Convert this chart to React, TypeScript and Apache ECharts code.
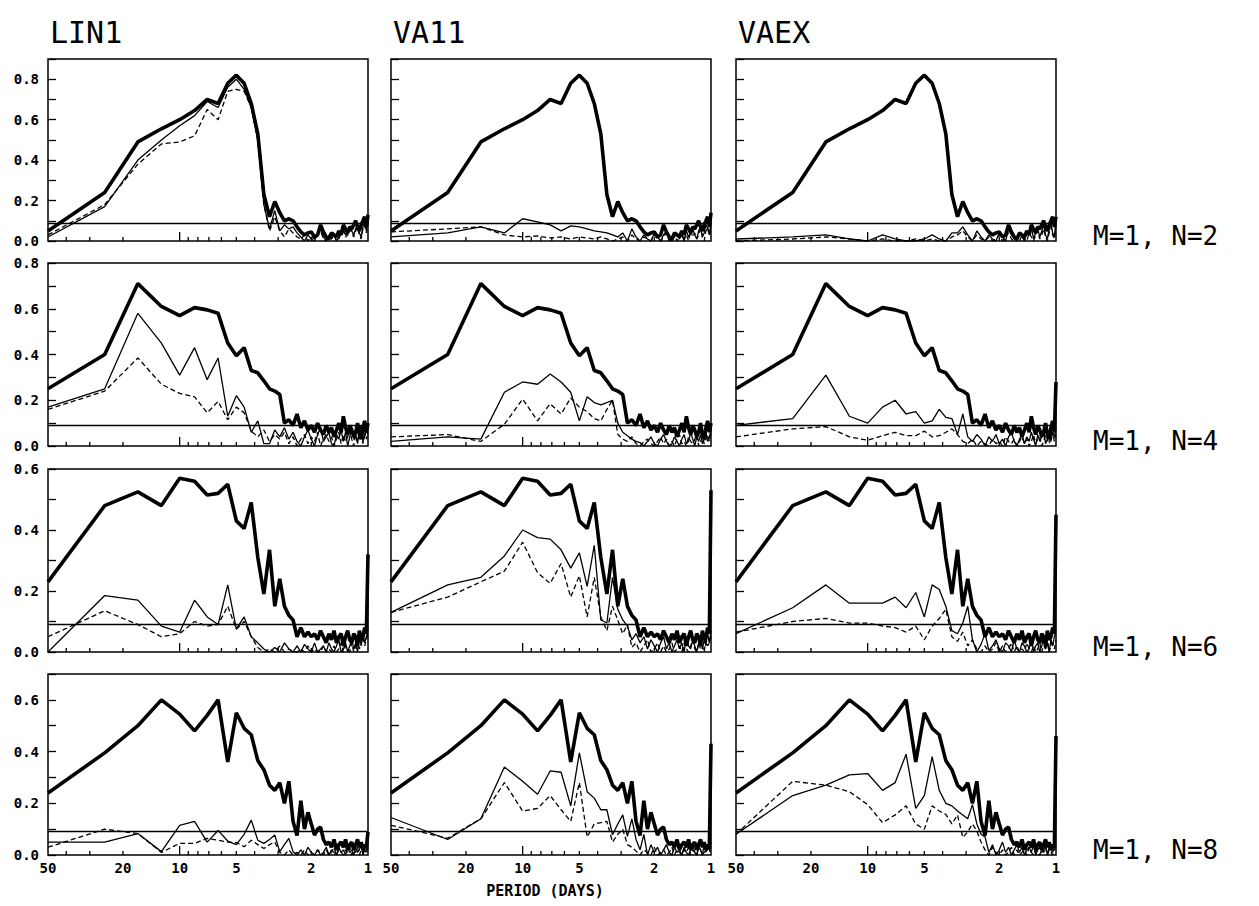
import React, { useEffect, useRef } from "react";
import * as echarts from "echarts";

// Harmonic index k of each spectral estimate; period (days) = 50 / k
const harmonics = [
  1, 2, 3, 4, 5, 6, 7, 8, 9, 10, 11, 12, 13, 14, 15, 16, 17, 18, 19, 20,
  21, 22, 23, 24, 25, 26, 27, 28, 29, 30, 31, 32, 33, 34, 35, 36, 37, 38, 39, 40,
  41, 42, 43, 44, 45, 46, 47, 48, 49, 50,
];
const recordLength = 50;

const models = ["LIN1", "VA11", "VAEX"];
const rowLabels = ["M=1, N=2", "M=1, N=4", "M=1, N=6", "M=1, N=8"];
const yMaxByRow = [0.9, 0.8, 0.6, 0.7];
const significance = 0.085;
const xTickPeriods = [40, 30, 20, 10, 9, 8, 7, 6, 5, 4, 3, 2];
const xLabelPeriods = [50, 20, 10, 5, 2, 1];
const xLabel = "PERIOD (DAYS)";

// ---- thick curve (k = 1..49), shared by the row; last point per panel ----
const thickN2 = [
  0.05, 0.24, 0.49, 0.555, 0.6, 0.645, 0.7, 0.68, 0.78, 0.82,
  0.78, 0.68, 0.53, 0.23, 0.12, 0.195, 0.14, 0.1, 0.11, 0.1,
  0.07, 0.045, 0.03, 0.04, 0.045, 0.02, 0.03, 0.08, 0.045, 0.02,
  0.01, 0.04, 0.03, 0.02, 0.05, 0.03, 0.08, 0.06, 0.04, 0.07,
  0.06, 0.08, 0.1, 0.07, 0.05, 0.08, 0.1, 0.12, 0.07,
];
const endN2 = [0.13, 0.14, 0.12];
const thickN4 = [
  0.25, 0.4, 0.71, 0.61, 0.57, 0.605, 0.595, 0.58, 0.45, 0.395,
  0.43, 0.33, 0.32, 0.285, 0.25, 0.24, 0.225, 0.1, 0.115, 0.09,
  0.14, 0.08, 0.11, 0.07, 0.09, 0.06, 0.1, 0.07, 0.05, 0.09,
  0.06, 0.08, 0.04, 0.07, 0.1, 0.06, 0.13, 0.08, 0.05, 0.09,
  0.07, 0.04, 0.06, 0.1, 0.05, 0.03, 0.08, 0.11, 0.06,
];
const endN4 = [0.1, 0.1, 0.28];
const thickN6 = [
  0.23, 0.48, 0.525, 0.48, 0.57, 0.56, 0.515, 0.52, 0.55, 0.43,
  0.405, 0.49, 0.31, 0.19, 0.335, 0.15, 0.24, 0.15, 0.12, 0.105,
  0.05, 0.08, 0.05, 0.065, 0.05, 0.06, 0.04, 0.07, 0.05, 0.03,
  0.06, 0.04, 0.07, 0.03, 0.05, 0.06, 0.02, 0.05, 0.07, 0.04,
  0.03, 0.06, 0.05, 0.02, 0.07, 0.04, 0.05, 0.08, 0.06,
];
const endN6 = [0.32, 0.53, 0.45];
const thickN8 = [
  0.24, 0.395, 0.5, 0.6, 0.545, 0.48, 0.54, 0.6, 0.36, 0.55,
  0.49, 0.465, 0.365, 0.33, 0.27, 0.25, 0.28, 0.2, 0.285, 0.13,
  0.075, 0.21, 0.1, 0.165, 0.12, 0.077, 0.1, 0.108, 0.06, 0.04,
  0.05, 0.03, 0.06, 0.02, 0.04, 0.05, 0.03, 0.06, 0.02, 0.04,
  0.05, 0.02, 0.04, 0.06, 0.03, 0.05, 0.02, 0.04, 0.03,
];
const endN8 = [0.09, 0.43, 0.46];

// ---- N=2 ----
const lin1N2Solid = [
  0.02, 0.17, 0.4, 0.5, 0.57, 0.62, 0.69, 0.66, 0.76, 0.8,
  0.75, 0.66, 0.5, 0.18, 0.06, 0.15, 0.05, 0.08, 0.06, 0.07,
  0.04, 0.02, 0.0, 0.03, 0.01, 0.0, 0.04, 0.06, 0.02, 0.0,
  0.03, 0.01, 0.04, 0.0, 0.02, 0.05, 0.06, 0.03, 0.04, 0.07,
  0.05, 0.03, 0.06, 0.08, 0.04, 0.02, 0.07, 0.09, 0.05, 0.1,
];
const lin1N2Dashed = [
  0.03, 0.18, 0.38, 0.48, 0.49, 0.52, 0.65, 0.6, 0.74, 0.75,
  0.74, 0.66, 0.5, 0.18, 0.05, 0.12, 0.05, 0.02, 0.06, 0.04,
  0.02, 0.01, 0.03, 0.0, 0.02, 0.01, 0.03, 0.05, 0.01, 0.0,
  0.02, 0.01, 0.03, 0.0, 0.01, 0.04, 0.05, 0.02, 0.03, 0.06,
  0.04, 0.02, 0.05, 0.07, 0.03, 0.01, 0.06, 0.08, 0.04, 0.09,
];
const va11N2Solid = [
  0.02, 0.04, 0.07, 0.04, 0.11, 0.095, 0.08, 0.05, 0.075, 0.07,
  0.06, 0.05, 0.045, 0.04, 0.03, 0.02, 0.04, 0.0, 0.06, 0.02,
  0.0, 0.03, 0.01, 0.0, 0.04, 0.02, 0.0, 0.03, 0.05, 0.01,
  0.0, 0.02, 0.04, 0.01, 0.03, 0.0, 0.05, 0.02, 0.04, 0.06,
  0.03, 0.01, 0.05, 0.07, 0.02, 0.04, 0.08, 0.06, 0.03, 0.09,
];
const va11N2Dashed = [
  0.045, 0.06, 0.07, 0.03, 0.02, 0.025, 0.015, 0.02, 0.01, 0.02,
  0.015, 0.01, 0.02, 0.01, 0.0, 0.01, 0.02, 0.0, 0.03, 0.01,
  0.0, 0.02, 0.01, 0.0, 0.03, 0.01, 0.0, 0.02, 0.04, 0.0,
  0.01, 0.03, 0.0, 0.02, 0.04, 0.01, 0.03, 0.0, 0.05, 0.02,
  0.04, 0.01, 0.03, 0.06, 0.02, 0.0, 0.05, 0.07, 0.03, 0.08,
];
const vaexN2Solid = [
  0.01, 0.02, 0.03, 0.01, 0.0, 0.03, 0.01, 0.0, 0.0, 0.01,
  0.03, 0.01, 0.0, 0.04, 0.04, 0.07, 0.03, 0.0, 0.05, 0.02,
  0.0, 0.03, 0.01, 0.0, 0.04, 0.02, 0.0, 0.06, 0.03, 0.01,
  0.0, 0.04, 0.02, 0.0, 0.05, 0.03, 0.07, 0.01, 0.04, 0.06,
  0.02, 0.05, 0.08, 0.03, 0.01, 0.06, 0.09, 0.04, 0.02, 0.1,
];
const vaexN2Dashed = [
  0.0, 0.01, 0.02, 0.01, 0.0, 0.01, 0.0, 0.0, 0.01, 0.0,
  0.01, 0.0, 0.0, 0.02, 0.03, 0.05, 0.02, 0.0, 0.03, 0.01,
  0.0, 0.02, 0.0, 0.01, 0.03, 0.0, 0.02, 0.04, 0.01, 0.0,
  0.02, 0.0, 0.03, 0.01, 0.0, 0.04, 0.02, 0.0, 0.03, 0.05,
  0.01, 0.03, 0.06, 0.02, 0.0, 0.04, 0.07, 0.03, 0.01, 0.08,
];

// ---- N=4 ----
const lin1N4Solid = [
  0.17, 0.25, 0.58, 0.45, 0.31, 0.43, 0.29, 0.385, 0.13, 0.22,
  0.17, 0.06, 0.11, 0.01, 0.01, 0.07, 0.04, 0.08, 0.03, 0.06,
  0.02, 0.0, 0.04, 0.07, 0.03, 0.0, 0.05, 0.08, 0.02, 0.04,
  0.06, 0.01, 0.0, 0.05, 0.03, 0.07, 0.02, 0.06, 0.0, 0.04,
  0.08, 0.03, 0.05, 0.01, 0.06, 0.09, 0.02, 0.04, 0.07, 0.05,
];
const lin1N4Dashed = [
  0.16, 0.24, 0.385, 0.27, 0.23, 0.215, 0.145, 0.195, 0.115, 0.17,
  0.145, 0.065, 0.04, 0.07, 0.02, 0.05, 0.03, 0.06, 0.01, 0.04,
  0.0, 0.03, 0.05, 0.01, 0.04, 0.02, 0.06, 0.0, 0.03, 0.05,
  0.02, 0.04, 0.0, 0.03, 0.06, 0.01, 0.05, 0.02, 0.04, 0.07,
  0.03, 0.0, 0.05, 0.02, 0.06, 0.04, 0.01, 0.07, 0.03, 0.06,
];
const va11N4Solid = [
  0.02, 0.04, 0.03, 0.235, 0.28, 0.27, 0.315, 0.28, 0.235, 0.11,
  0.215, 0.19, 0.18, 0.19, 0.2, 0.1, 0.06, 0.045, 0.03, 0.02,
  0.015, 0.0, 0.02, 0.04, 0.01, 0.0, 0.03, 0.05, 0.02, 0.0,
  0.01, 0.04, 0.02, 0.0, 0.03, 0.05, 0.01, 0.02, 0.06, 0.03,
  0.0, 0.04, 0.02, 0.05, 0.01, 0.03, 0.06, 0.02, 0.04, 0.07,
];
const va11N4Dashed = [
  0.04, 0.05, 0.02, 0.095, 0.205, 0.11, 0.185, 0.14, 0.21, 0.17,
  0.15, 0.12, 0.11, 0.16, 0.2, 0.05, 0.03, 0.02, 0.04, 0.01,
  0.0, 0.02, 0.03, 0.01, 0.0, 0.02, 0.04, 0.01, 0.03, 0.0,
  0.02, 0.0, 0.03, 0.05, 0.01, 0.02, 0.0, 0.04, 0.02, 0.01,
  0.03, 0.05, 0.0, 0.02, 0.04, 0.01, 0.03, 0.05, 0.02, 0.06,
];
const vaexN4Solid = [
  0.09, 0.12, 0.31, 0.13, 0.1, 0.17, 0.2, 0.14, 0.15, 0.1,
  0.11, 0.16, 0.125, 0.12, 0.05, 0.14, 0.04, 0.02, 0.05, 0.03,
  0.0, 0.04, 0.02, 0.05, 0.01, 0.03, 0.0, 0.04, 0.06, 0.02,
  0.0, 0.03, 0.05, 0.01, 0.04, 0.02, 0.06, 0.03, 0.0, 0.05,
  0.02, 0.04, 0.07, 0.01, 0.03, 0.05, 0.02, 0.06, 0.04, 0.08,
];
const vaexN4Dashed = [
  0.04, 0.075, 0.085, 0.04, 0.025, 0.045, 0.06, 0.045, 0.045, 0.065,
  0.04, 0.045, 0.06, 0.075, 0.05, 0.02, 0.01, 0.03, 0.0, 0.02,
  0.01, 0.0, 0.03, 0.01, 0.02, 0.0, 0.04, 0.02, 0.01, 0.03,
  0.0, 0.02, 0.04, 0.01, 0.03, 0.0, 0.02, 0.05, 0.01, 0.03,
  0.04, 0.0, 0.02, 0.05, 0.03, 0.01, 0.04, 0.06, 0.02, 0.05,
];

// ---- N=6 ----
const lin1N6Solid = [
  0.0, 0.185, 0.17, 0.085, 0.065, 0.17, 0.115, 0.09, 0.22, 0.075,
  0.115, 0.05, 0.03, 0.01, 0.0, 0.015, 0.0, 0.03, 0.01, 0.0,
  0.02, 0.0, 0.025, 0.01, 0.0, 0.03, 0.0, 0.01, 0.02, 0.0,
  0.03, 0.01, 0.0, 0.02, 0.04, 0.0, 0.01, 0.03, 0.0, 0.02,
  0.04, 0.01, 0.03, 0.0, 0.05, 0.02, 0.06, 0.03, 0.05, 0.08,
];
const lin1N6Dashed = [
  0.05, 0.135, 0.09, 0.05, 0.06, 0.1, 0.085, 0.09, 0.15, 0.075,
  0.1, 0.05, 0.015, 0.0, 0.01, 0.0, 0.02, 0.0, 0.01, 0.0,
  0.0, 0.01, 0.0, 0.02, 0.0, 0.01, 0.0, 0.0, 0.02, 0.0,
  0.01, 0.0, 0.02, 0.0, 0.01, 0.03, 0.0, 0.02, 0.01, 0.0,
  0.03, 0.0, 0.02, 0.04, 0.01, 0.03, 0.05, 0.02, 0.04, 0.06,
];
const va11N6Solid = [
  0.13, 0.22, 0.245, 0.315, 0.4, 0.375, 0.37, 0.335, 0.275, 0.325,
  0.215, 0.35, 0.105, 0.095, 0.245, 0.14, 0.105, 0.085, 0.04, 0.06,
  0.03, 0.05, 0.01, 0.04, 0.02, 0.0, 0.03, 0.05, 0.01, 0.03,
  0.0, 0.02, 0.04, 0.01, 0.03, 0.0, 0.05, 0.02, 0.01, 0.04,
  0.02, 0.0, 0.03, 0.05, 0.01, 0.04, 0.02, 0.06, 0.03, 0.07,
];
const va11N6Dashed = [
  0.13, 0.18, 0.23, 0.265, 0.36, 0.26, 0.225, 0.29, 0.18, 0.25,
  0.115, 0.245, 0.115, 0.07, 0.15, 0.105, 0.06, 0.09, 0.015, 0.03,
  0.0, 0.02, 0.04, 0.0, 0.01, 0.03, 0.0, 0.02, 0.0, 0.01,
  0.03, 0.0, 0.01, 0.02, 0.0, 0.03, 0.01, 0.0, 0.02, 0.04,
  0.01, 0.0, 0.03, 0.01, 0.02, 0.0, 0.04, 0.02, 0.03, 0.05,
];
const vaexN6Solid = [
  0.06, 0.145, 0.22, 0.16, 0.16, 0.16, 0.18, 0.145, 0.195, 0.115,
  0.22, 0.205, 0.15, 0.07, 0.06, 0.095, 0.15, 0.04, 0.0, 0.025,
  0.06, 0.005, 0.02, 0.04, 0.01, 0.0, 0.03, 0.02, 0.0, 0.04,
  0.01, 0.0, 0.03, 0.02, 0.0, 0.01, 0.04, 0.0, 0.02, 0.03,
  0.0, 0.02, 0.05, 0.01, 0.03, 0.0, 0.04, 0.02, 0.05, 0.07,
];
const vaexN6Dashed = [
  0.065, 0.1, 0.11, 0.095, 0.095, 0.085, 0.08, 0.065, 0.085, 0.04,
  0.085, 0.11, 0.14, 0.05, 0.035, 0.065, 0.02, 0.04, 0.01, 0.0,
  0.02, 0.0, 0.01, 0.03, 0.0, 0.02, 0.0, 0.01, 0.03, 0.0,
  0.02, 0.0, 0.01, 0.0, 0.03, 0.01, 0.0, 0.02, 0.0, 0.01,
  0.03, 0.0, 0.02, 0.01, 0.04, 0.0, 0.02, 0.03, 0.01, 0.04,
];

// ---- N=8 ----
const lin1N8Solid = [
  0.05, 0.05, 0.083, 0.013, 0.115, 0.13, 0.05, 0.095, 0.054, 0.04,
  0.08, 0.135, 0.057, 0.045, 0.06, 0.077, 0.013, 0.04, 0.064, 0.013,
  0.0, 0.02, 0.0, 0.03, 0.01, 0.0, 0.02, 0.0, 0.01, 0.03,
  0.0, 0.02, 0.01, 0.0, 0.03, 0.01, 0.02, 0.0, 0.03, 0.01,
  0.02, 0.0, 0.03, 0.01, 0.02, 0.04, 0.0, 0.02, 0.01, 0.03,
];
const lin1N8Dashed = [
  0.03, 0.1, 0.083, 0.01, 0.045, 0.045, 0.064, 0.057, 0.05, 0.048,
  0.032, 0.057, 0.04, 0.025, 0.04, 0.05, 0.01, 0.0, 0.02, 0.0,
  0.01, 0.0, 0.02, 0.0, 0.01, 0.0, 0.02, 0.01, 0.0, 0.02,
  0.0, 0.01, 0.03, 0.0, 0.02, 0.01, 0.0, 0.02, 0.01, 0.03,
  0.0, 0.02, 0.01, 0.03, 0.0, 0.02, 0.01, 0.03, 0.02, 0.04,
];
const va11N8Solid = [
  0.145, 0.06, 0.14, 0.34, 0.285, 0.235, 0.325, 0.32, 0.19, 0.395,
  0.245, 0.22, 0.175, 0.175, 0.078, 0.12, 0.155, 0.072, 0.14, 0.06,
  0.02, 0.08, 0.0, 0.04, 0.01, 0.03, 0.0, 0.02, 0.04, 0.01,
  0.0, 0.03, 0.01, 0.02, 0.0, 0.03, 0.01, 0.0, 0.02, 0.04,
  0.01, 0.0, 0.03, 0.02, 0.0, 0.04, 0.01, 0.03, 0.02, 0.05,
];
const va11N8Dashed = [
  0.115, 0.065, 0.14, 0.28, 0.17, 0.18, 0.23, 0.175, 0.13, 0.28,
  0.07, 0.12, 0.125, 0.13, 0.05, 0.08, 0.1, 0.04, 0.03, 0.015,
  0.0, 0.02, 0.01, 0.0, 0.03, 0.0, 0.01, 0.02, 0.0, 0.01,
  0.03, 0.0, 0.02, 0.01, 0.0, 0.02, 0.01, 0.03, 0.0, 0.02,
  0.01, 0.0, 0.03, 0.02, 0.0, 0.01, 0.03, 0.02, 0.01, 0.04,
];
const vaexN8Solid = [
  0.08, 0.23, 0.27, 0.31, 0.315, 0.25, 0.28, 0.39, 0.18, 0.23,
  0.38, 0.25, 0.2, 0.19, 0.17, 0.155, 0.14, 0.195, 0.12, 0.08,
  0.07, 0.01, 0.04, 0.0, 0.02, 0.05, 0.01, 0.03, 0.0, 0.02,
  0.04, 0.01, 0.03, 0.0, 0.02, 0.03, 0.01, 0.04, 0.0, 0.02,
  0.03, 0.01, 0.02, 0.04, 0.0, 0.03, 0.02, 0.01, 0.03, 0.05,
];
const vaexN8Dashed = [
  0.08, 0.285, 0.27, 0.245, 0.195, 0.125, 0.155, 0.19, 0.12, 0.1,
  0.19, 0.17, 0.157, 0.12, 0.155, 0.068, 0.09, 0.12, 0.093, 0.05,
  0.02, 0.0, 0.03, 0.01, 0.0, 0.02, 0.0, 0.01, 0.03, 0.0,
  0.02, 0.0, 0.01, 0.02, 0.0, 0.03, 0.01, 0.0, 0.02, 0.01,
  0.0, 0.02, 0.01, 0.03, 0.0, 0.02, 0.01, 0.0, 0.02, 0.03,
];

const thickRows = [thickN2, thickN4, thickN6, thickN8];
const thickEnds = [endN2, endN4, endN6, endN8];
const solidRows = [
  [lin1N2Solid, va11N2Solid, vaexN2Solid],
  [lin1N4Solid, va11N4Solid, vaexN4Solid],
  [lin1N6Solid, va11N6Solid, vaexN6Solid],
  [lin1N8Solid, va11N8Solid, vaexN8Solid],
];
const dashedRows = [
  [lin1N2Dashed, va11N2Dashed, vaexN2Dashed],
  [lin1N4Dashed, va11N4Dashed, vaexN4Dashed],
  [lin1N6Dashed, va11N6Dashed, vaexN6Dashed],
  [lin1N8Dashed, va11N8Dashed, vaexN8Dashed],
];

const MONO = '"DejaVu Sans Mono", monospace';

export default function App() {
  const ref = useRef<HTMLDivElement>(null);

  useEffect(() => {
    if (!ref.current) return;
    const chart = echarts.init(ref.current, null, { renderer: "svg" });

    const colLeft = [48, 391, 736];
    const colWidth = 320;
    const rowTop = [59, 263, 469, 674];
    const rowHeight = [182, 183, 183, 181];
    const periods = harmonics.map((k) => recordLength / k);

    const grid: any[] = [];
    const xAxis: any[] = [];
    const yAxis: any[] = [];
    const series: any[] = [];

    for (let r = 0; r < 4; r++) {
      for (let c = 0; c < 3; c++) {
        const i = r * 3 + c;
        grid.push({
          left: colLeft[c],
          top: rowTop[r],
          width: colWidth,
          height: rowHeight[r],
          show: true,
          borderColor: "#000",
          borderWidth: 1.5,
          backgroundColor: "transparent",
        });
        xAxis.push({
          type: "log",
          logBase: 10,
          gridIndex: i,
          min: 1,
          max: 50,
          inverse: true,
          axisLine: { show: false },
          axisTick: { show: false },
          axisLabel: { show: false },
          splitLine: { show: false },
        });
        yAxis.push({
          type: "value",
          gridIndex: i,
          min: 0,
          max: yMaxByRow[r],
          interval: 0.1,
          axisLine: { show: false },
          splitLine: { show: false },
          axisTick: {
            show: true,
            inside: true,
            length: 8,
            lineStyle: { color: "#000", width: 1.3 },
          },
          axisLabel: {
            show: c === 0,
            margin: 9,
            color: "#000",
            fontFamily: MONO,
            fontWeight: "bold",
            fontSize: 14,
            formatter: (v: number) =>
              Math.round(v * 10) % 2 === 0 ? v.toFixed(1) : "",
          },
        });

        const thickVals = thickRows[r].concat([thickEnds[r][c]]);
        const solidVals = solidRows[r][c];
        const dashedVals = dashedRows[r][c];

        series.push({
          type: "line",
          xAxisIndex: i,
          yAxisIndex: i,
          data: periods.map((p, j) => [p, dashedVals[j]]),
          showSymbol: false,
          symbol: "none",
          lineStyle: { color: "#000", width: 1.3, type: [5, 3] },
          z: 2,
        });
        series.push({
          type: "line",
          xAxisIndex: i,
          yAxisIndex: i,
          data: periods.map((p, j) => [p, solidVals[j]]),
          showSymbol: false,
          symbol: "none",
          lineStyle: { color: "#000", width: 1.3 },
          z: 3,
        });
        series.push({
          type: "line",
          xAxisIndex: i,
          yAxisIndex: i,
          data: periods.map((p, j) => [p, thickVals[j]]),
          showSymbol: false,
          symbol: "none",
          lineStyle: { color: "#000", width: 3.6 },
          z: 4,
          markLine: {
            silent: true,
            symbol: ["none", "none"],
            label: { show: false },
            lineStyle: { color: "#000", width: 1.3, type: "solid" },
            data: [{ yAxis: significance }],
          },
        });
        // minor ticks on the bottom edge
        series.push({
          type: "custom",
          xAxisIndex: i,
          yAxisIndex: i,
          clip: false,
          silent: true,
          data: xTickPeriods.map((p) => [p, 0, p === 10 ? 1 : 0]),
          renderItem: (params: any, api: any) => {
            const pt = api.coord([api.value(0), 0]);
            const len = api.value(2) ? 9 : 4;
            return {
              type: "line",
              shape: { x1: pt[0], y1: pt[1], x2: pt[0], y2: pt[1] - len },
              style: { stroke: "#000", lineWidth: 1.3 },
            };
          },
          z: 5,
        });
        if (r === 3) {
          series.push({
            type: "custom",
            xAxisIndex: i,
            yAxisIndex: i,
            clip: false,
            silent: true,
            data: xLabelPeriods.map((p) => [p, 0]),
            renderItem: (params: any, api: any) => {
              const pt = api.coord([api.value(0), 0]);
              return {
                type: "text",
                x: pt[0],
                y: pt[1] + 6,
                style: {
                  text: String(api.value(0)),
                  align: "center",
                  verticalAlign: "top",
                  font: `bold 14px ${MONO}`,
                  fill: "#000",
                },
              };
            },
            z: 5,
          });
        }
      }
    }

    const graphic: any[] = [];
    models.forEach((m, c) => {
      graphic.push({
        type: "text",
        left: colLeft[c] + 2,
        top: 17,
        style: { text: m, font: `30px ${MONO}`, fill: "#000" },
      });
    });
    rowLabels.forEach((t, r) => {
      graphic.push({
        type: "text",
        left: 1093,
        top: rowTop[r] + rowHeight[r] - 18,
        style: { text: t, font: `26px ${MONO}`, fill: "#000" },
      });
    });
    graphic.push({
      type: "text",
      x: 545,
      y: 891,
      style: {
        text: xLabel,
        font: `bold 15px ${MONO}`,
        fill: "#000",
        align: "center",
        verticalAlign: "middle",
      },
    });

    chart.setOption({
      animation: false,
      backgroundColor: "#fff",
      grid,
      xAxis,
      yAxis,
      series,
      graphic,
    });

    return () => chart.dispose();
  }, []);

  return (
    <div
      ref={ref}
      style={{
        position: "fixed",
        left: 0,
        top: 0,
        width: 1259,
        height: 906,
        background: "#fff",
      }}
    />
  );
}
